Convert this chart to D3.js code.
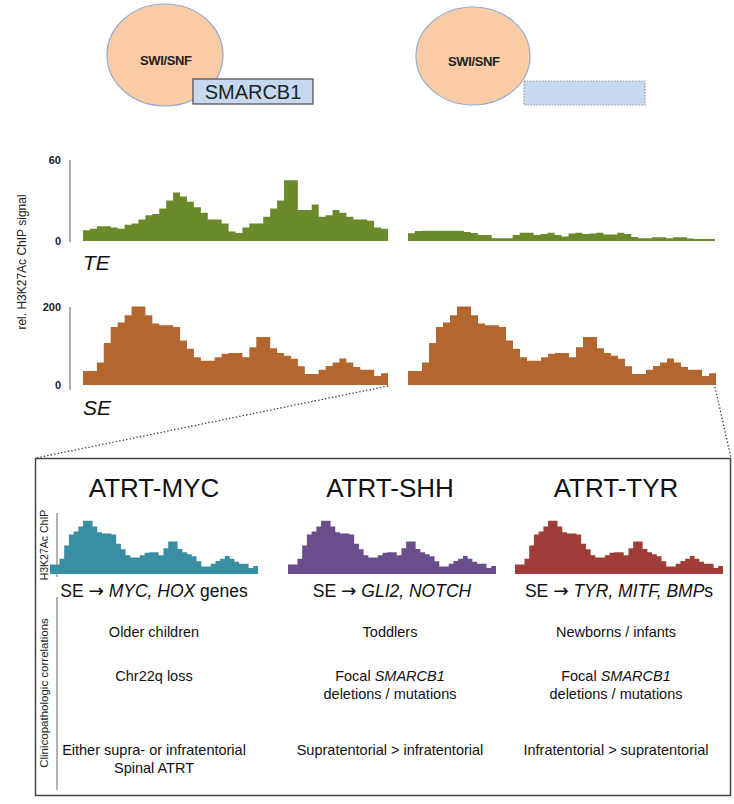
<!DOCTYPE html>
<html><head><meta charset="utf-8">
<script src="https://cdn.jsdelivr.net/npm/d3@7"></script>
<style>body{margin:0;background:#fff}svg{display:block;font-family:"Liberation Sans",Arial,Helvetica,sans-serif}</style>
</head><body>
<script>
// ---------- data ----------
const seValues = [36,36,58,108,149,160,179,201,201,179,158,153,153,149,114,93,71,62,62,71,80,82,82,71,97,123,123,94,82,75,67,48,28,28,39,49,58,68,58,46,39,39,23,30];
const teLeftValues = [8,9,11,11,10,9,12,13,16,19,20,24,30,36,33,29,25,21,16,16,13,7,6,10,13,13,18,24,30,45,45,23,23,27,18,19,23,21,18,16,16,15,10,9];
const teRightValues = [5.7,7.4,7.6,7.6,7.6,7.6,7.6,7.6,6.7,5.9,4.4,4.4,2,2,2,4.4,6.1,6.1,4.4,5.2,6.1,4.4,3.3,5.6,6.1,5.2,5.6,6.1,4.8,4.8,6.1,5.2,3,2,2,2.7,2.7,2,2.7,2.7,1.9,1.5,1.5,1.5];
const teTicks = [0, 60];
const seTicks = [0, 200];
const subtypes = ["ATRT-MYC", "ATRT-SHH", "ATRT-TYR"];
const seTargets = [
  [["SE ", false], ["\u2192", "arrow"], [" ", false], ["MYC, HOX", true], [" genes", false]],
  [["SE ", false], ["\u2192", "arrow"], [" ", false], ["GLI2, NOTCH", true]],
  [["SE ", false], ["\u2192", "arrow"], [" ", false], ["TYR, MITF, BMP", true], ["s", false]]
];
const ageRow = [[[["Older children", false]]], [[["Toddlers", false]]], [[["Newborns / infants", false]]]];
const geneticRow = [
  [[["Chr22q loss", false]]],
  [[["Focal ", false], ["SMARCB1", true]], [["deletions / mutations", false]]],
  [[["Focal ", false], ["SMARCB1", true]], [["deletions / mutations", false]]]
];
const locationRow = [
  [[["Either supra- or infratentorial", false]], [["Spinal ATRT", false]]],
  [[["Supratentorial > infratentorial", false]]],
  [[["Infratentorial > supratentorial", false]]]
];

// ---------- styles ----------
const teColor = "#6b8a2c", seColor = "#b3672f";
const subColors = ["#3a8ea3", "#6a4e8b", "#a13d39"];
const W = 734, H = 804;

const svg = d3.select("body").append("svg").attr("width", W).attr("height", H);

// ---------- top schematic ----------
function complex(cx, cy, rx, ry, bx, by, bw, bh, label, dotted) {
  const g = svg.append("g");
  g.append("ellipse").attr("cx", cx).attr("cy", cy).attr("rx", rx).attr("ry", ry)
    .attr("fill", "#f9cca5").attr("stroke", "#93abd1").attr("stroke-width", 1.2);
  g.append("text").attr("x", cx + 1).attr("y", cy + 10).attr("text-anchor", "middle")
    .attr("font-size", 13).attr("font-weight", "bold").attr("fill", "#222")
    .attr("textLength", 52).text("SWI/SNF");
  g.append("rect").attr("x", bx).attr("y", by).attr("width", bw).attr("height", bh)
    .attr("fill", "#c6d9f1").attr("stroke", dotted ? "#999" : "#555")
    .attr("stroke-width", dotted ? 1.2 : 1.3)
    .attr("stroke-dasharray", dotted ? "1.5,1.5" : null);
  if (label) g.append("text").attr("x", bx + bw / 2).attr("y", by + bh / 2 + 7)
    .attr("text-anchor", "middle").attr("font-size", 20).attr("fill", "#222").text(label);
}
complex(165, 55, 58, 51, 193, 79, 120, 25, "SMARCB1", false);
complex(473, 56, 57, 49, 524, 81, 121, 24, null, true);

// ---------- profile helper ----------
function profile(values, x0, x1, yScale, color) {
  const x = d3.scaleLinear().domain([0, values.length]).range([x0, x1]);
  const pts = values.map((v, i) => [i, v]).concat([[values.length, values[values.length - 1]]]);
  const area = d3.area().curve(d3.curveStepAfter)
    .x(d => x(d[0])).y0(yScale(0)).y1(d => yScale(d[1]));
  svg.append("path").datum(pts).attr("d", area).attr("fill", color);
}

// TE row
const yTE = d3.scaleLinear().domain([0, 60]).range([241, 160]);
profile(teLeftValues, 83, 388, yTE, teColor);
profile(teRightValues, 408, 715, yTE, teColor);
const axTE = svg.append("g").attr("transform", "translate(70,0)")
  .call(d3.axisLeft(yTE).tickValues(teTicks).tickSize(0).tickSizeOuter(0).tickPadding(9));
// SE row
const ySE = d3.scaleLinear().domain([0, 200]).range([385, 307]);
profile(seValues, 83, 388, ySE, seColor);
profile(seValues, 408, 716, ySE, seColor);
const axSE = svg.append("g").attr("transform", "translate(70,0)")
  .call(d3.axisLeft(ySE).tickValues(seTicks).tickSize(0).tickSizeOuter(0).tickPadding(9));
[axTE, axSE].forEach(a => {
  a.select(".domain").attr("stroke", "#777").attr("stroke-width", 1.2);
  a.selectAll("text").attr("font-size", 11).attr("font-weight", "bold")
    .attr("fill", "#222").attr("font-family", "Liberation Sans, Arial, sans-serif");
});
axSE.select(".domain").attr("d", "M0,307V390");
axTE.select(".domain").attr("d", "M0,160V242");

svg.append("text").attr("transform", "translate(26,262) rotate(-90)")
  .attr("text-anchor", "middle").attr("font-size", 12).attr("fill", "#222")
  .text("rel. H3K27Ac ChIP signal");
svg.append("text").attr("x", 83).attr("y", 270).attr("font-size", 21)
  .attr("font-style", "italic").attr("fill", "#111").text("TE");
svg.append("text").attr("x", 83).attr("y", 415).attr("font-size", 21)
  .attr("font-style", "italic").attr("fill", "#111").text("SE");

// dotted zoom lines
svg.append("line").attr("x1", 388).attr("y1", 386).attr("x2", 36).attr("y2", 458)
  .attr("stroke", "#333").attr("stroke-width", 1.3).attr("stroke-dasharray", "1.3,2.2");
svg.append("line").attr("x1", 715).attr("y1", 387).attr("x2", 731).attr("y2", 458)
  .attr("stroke", "#333").attr("stroke-width", 1.3).attr("stroke-dasharray", "1.3,2.2");

// ---------- bottom box ----------
svg.append("rect").attr("x", 35.5).attr("y", 458.5).attr("width", 695).attr("height", 337)
  .attr("fill", "none").attr("stroke", "#444").attr("stroke-width", 1.5);
svg.append("line").attr("x1", 57).attr("x2", 57).attr("y1", 513).attr("y2", 577).attr("stroke", "#666");
svg.append("line").attr("x1", 57).attr("x2", 57).attr("y1", 597).attr("y2", 790).attr("stroke", "#666");
svg.append("text").attr("transform", "translate(48,545) rotate(-90)").attr("text-anchor", "middle")
  .attr("font-size", 10.5).attr("fill", "#222").text("H3K27Ac ChIP");
svg.append("text").attr("transform", "translate(48,693) rotate(-90)").attr("text-anchor", "middle")
  .attr("font-size", 11.5).attr("fill", "#222").text("Clinicopathologic correlations");

const colCenters = [154, 390, 616];
const profX = [[50, 258], [288, 496], [515, 723]];
const ySmall = d3.scaleLinear().domain([0, 200]).range([574, 521]);

function richLine(x, y, segs, size) {
  const t = svg.append("text").attr("x", x).attr("y", y).attr("text-anchor", "middle")
    .attr("font-size", size).attr("fill", "#111");
  segs.forEach(s => {
    const sp = t.append("tspan").attr("font-style", s[1] === true ? "italic" : "normal").text(s[0]);
    if (s[1] === "arrow") sp.attr("font-family", "DejaVu Sans").attr("font-size", size * 1.05);
  });
}

subtypes.forEach((name, i) => {
  svg.append("text").attr("x", colCenters[i]).attr("y", 497).attr("text-anchor", "middle")
    .attr("font-size", 26).attr("fill", "#111").text(name);
  profile(seValues, profX[i][0], profX[i][1], ySmall, subColors[i]);
  richLine((profX[i][0] + profX[i][1]) / 2, 597, seTargets[i], 17.5);
  [[ageRow, 637], [geneticRow, 681], [locationRow, 755]].forEach(([row, y0]) => {
    row[i].forEach((line, k) => richLine(colCenters[i], y0 + k * 18, line, 14.5));
  });
});
</script>
</body></html>
